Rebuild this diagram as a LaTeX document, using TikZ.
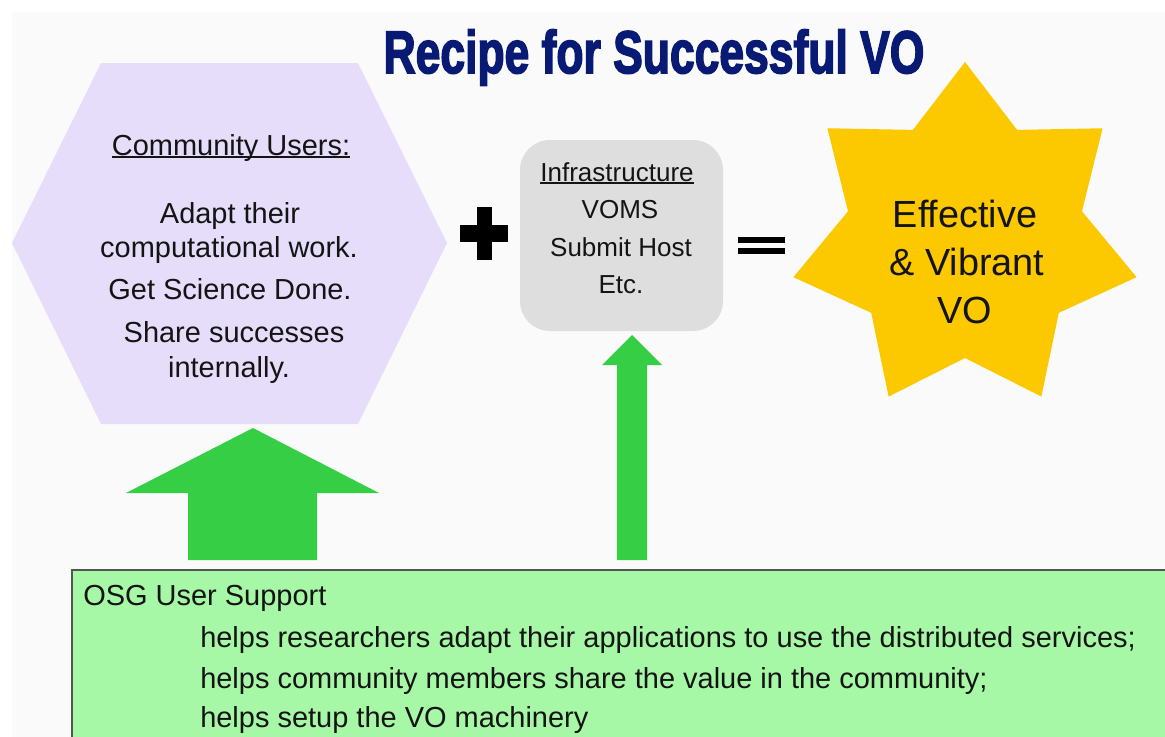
\documentclass[tikz,border=0pt]{standalone}
\usepackage{fontspec}
\setmainfont{Liberation Sans}
\newfontfamily\titlefont[BoldFeatures={FakeBold=3}]{Liberation Sans}
\usetikzlibrary{positioning}
\definecolor{titleblue}{RGB}{8,26,116}
\definecolor{panelgray}{RGB}{250,250,250}
\definecolor{hexlilac}{RGB}{230,221,250}
\definecolor{infragray}{RGB}{222,222,222}
\definecolor{staryellow}{RGB}{252,200,0}
\definecolor{arrowgreen}{RGB}{54,206,68}
\definecolor{supportgreen}{RGB}{166,247,166}
\definecolor{borderdark}{RGB}{85,85,85}
\newcommand{\undl}[1]{\setbox0\hbox{#1}\rlap{\rule[-2.2pt]{\wd0}{1.2pt}}\box0}
\tikzset{
	every node/.style = {inner sep=0pt, text=black!92},
	hextext/.style = {anchor=base, font=\fontsize{20.6}{24}\selectfont},
	infratext/.style = {anchor=base, font=\fontsize{18.5}{22}\selectfont},
	startext/.style = {anchor=base, font=\fontsize{26.9}{32}\selectfont},
	supporttext/.style = {anchor=base west, font=\fontsize{20.6}{24}\selectfont},
	blockarrow/.style = {fill=arrowgreen}
}

\begin{document}
\begin{tikzpicture}[x=0.025cm, y=-0.025cm]
	\clip (0,0) rectangle (1165,737);
	\fill[white] (0,0) rectangle (1165,737);
	\fill[panelgray] (12,12) rectangle (1165,737);
	% title
	\node (title) [anchor=base, text=titleblue, font=\fontsize{42.7}{48}\titlefont\bfseries] at (654,73) {\scalebox{0.74}[1]{Recipe for Successful VO}};
	% community users
	\fill[hexlilac] (12,243) -- (101,63) -- (358,63) -- (447,243) -- (358,424) -- (101,424) -- cycle;
	\node (users) [hextext] at (231,155) {\undl{Community Users:}};
	\node (adapt) [hextext] at (230,223) {Adapt their};
	\node (work) [hextext] at (229,257) {computational work.};
	\node (done) [hextext] at (230,299) {Get Science Done.};
	\node (share) [hextext] at (234,342) {Share successes};
	\node (intern) [hextext] at (229,377) {internally.};
	% plus
	\fill[black] (460,225) rectangle (508,242);
	\fill[black] (477,207) rectangle (492,260);
	% infrastructure
	\fill[infragray, rounded corners=0.75cm] (520,140) rectangle (723,331);
	\node (infra) [infratext] at (617,181) {\undl{Infrastructure}};
	\node (voms) [infratext] at (620,218) {VOMS};
	\node (host) [infratext] at (621,256) {Submit Host};
	\node (etc) [infratext] at (621,293) {Etc.};
	% equals
	\fill[black] (738,237) rectangle (785,243);
	\fill[black] (738,248) rectangle (785,254);
	% effective VO
	\begin{scope}[shift={(965,238)}]
		\fill[staryellow] (-90:176) \foreach \k in {0,...,6}{ -- ({-90+\k*360/7}:176) -- ({-90+\k*360/7+180/7}:120)} -- cycle;
	\end{scope}
	\node (eff) [startext] at (965,227) {Effective};
	\node (vib) [startext] at (967,275) {\& Vibrant};
	\node (vo) [startext] at (965,323) {VO};
	% user support
	\draw[fill=supportgreen, draw=borderdark, line width=1.5pt] (72,570) rectangle (1180,760);
	\node (osg) [supporttext] at (83,605) {OSG User Support};
	\node (adaptapps) [supporttext] at (200,647) {helps researchers adapt their applications to use the distributed services;};
	\node (sharevalue) [supporttext] at (200,688) {helps community members share the value in the community;};
	\node (machinery) [supporttext] at (200,727) {helps setup the VO machinery};
	% arrows
	\fill[blockarrow] (253,428) -- (379,493) -- (317,493) -- (317,560) -- (188,560) -- (188,493) -- (126,493) -- cycle;
	\fill[blockarrow] (632,335) -- (662,365) -- (647,365) -- (647,560) -- (617,560) -- (617,365) -- (602,365) -- cycle;
\end{tikzpicture}
\end{document}
